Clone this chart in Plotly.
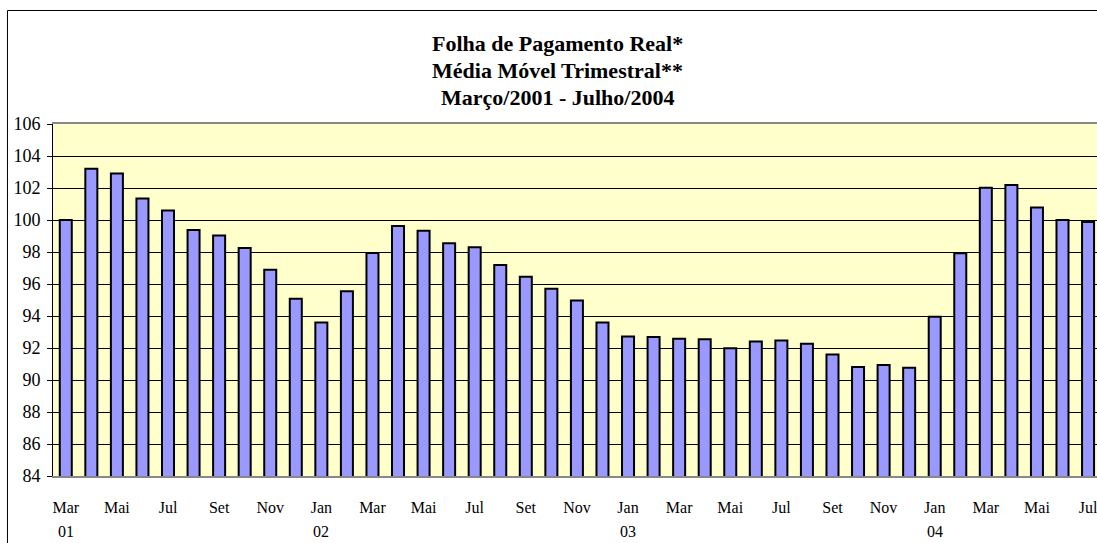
import plotly.graph_objects as go

months = ["Mar", "Abr", "Mai", "Jun", "Jul", "Ago", "Set", "Out", "Nov", "Dez",
          "Jan", "Fev", "Mar", "Abr", "Mai", "Jun", "Jul", "Ago", "Set", "Out", "Nov", "Dez",
          "Jan", "Fev", "Mar", "Abr", "Mai", "Jun", "Jul", "Ago", "Set", "Out", "Nov", "Dez",
          "Jan", "Fev", "Mar", "Abr", "Mai", "Jun", "Jul"]
values = [100.0, 103.2, 102.9, 101.35, 100.6, 99.37, 99.03, 98.25, 96.89, 95.08,
          93.6, 95.54, 97.94, 99.62, 99.33, 98.55, 98.3, 97.18, 96.45, 95.71, 94.97, 93.6,
          92.72, 92.68, 92.58, 92.54, 91.99, 92.41, 92.47, 92.26, 91.59, 90.81, 90.94, 90.77,
          93.96, 97.92, 102.02, 102.19, 100.78, 100.0, 99.87]
year_labels = {0: "01", 10: "02", 22: "03", 34: "04"}
title_lines = ["Folha de Pagamento Real*", "Média Móvel Trimestral**", "Março/2001 - Julho/2004"]

x = list(range(len(values)))
tickvals = x[::2]
ticktext = [months[i] for i in tickvals]

FONT = "Liberation Serif, Times New Roman, serif"

fig = go.Figure(go.Bar(
    x=x, y=values,
    marker=dict(color="#9999FF", line=dict(color="black", width=2)),
    width=0.47,
))

annotations = []
for i, t in enumerate(title_lines):
    annotations.append(dict(
        text="<b>" + t + "</b>", xref="paper", yref="paper",
        x=0.4837, y=[1.2301, 1.1534, 1.0767][i], xanchor="center", yanchor="middle",
        showarrow=False, font=dict(family=FONT, size=22, color="black")))
for i, t in year_labels.items():
    annotations.append(dict(
        text=t, xref="x", yref="paper", x=i, y=-0.1585, xanchor="center", yanchor="middle",
        showarrow=False, font=dict(family=FONT, size=16, color="black")))

fig.update_layout(
    width=1097, height=543,
    margin=dict(l=53, r=0, t=124, b=67),
    paper_bgcolor="white",
    plot_bgcolor="#FFFFCC",
    showlegend=False,
    font=dict(family=FONT, size=16, color="black"),
    annotations=annotations,
    shapes=[dict(type="rect", xref="paper", yref="paper",
                 x0=-0.0436, x1=1.1, y0=-0.4, y1=1.3224,
                 line=dict(color="black", width=1), fillcolor="rgba(0,0,0,0)", layer="above")],
    bargap=0.5,
)
fig.update_xaxes(
    range=[-0.5, 40.35], tickvals=tickvals, ticktext=ticktext,
    showgrid=False, zeroline=False, ticks="",
    showline=True, linecolor="#888888", linewidth=2, mirror=True,
    ticklabelstandoff=16, ticklabeloverflow="allow",
    tickfont=dict(family=FONT, size=16, color="black"),
)
fig.update_yaxes(
    range=[84, 106], dtick=2, tick0=84,
    showgrid=True, gridcolor="black", gridwidth=1,
    zeroline=False, ticks="outside", ticklen=5, tickcolor="black",
    showline=True, linecolor="black", linewidth=1,
    ticklabelstandoff=3,
    tickfont=dict(family=FONT, size=18, color="black"),
)

fig.write_html("out.html", config={"displayModeBar": False},
               post_script="document.body.style.margin='0';document.body.style.overflow='hidden';")
